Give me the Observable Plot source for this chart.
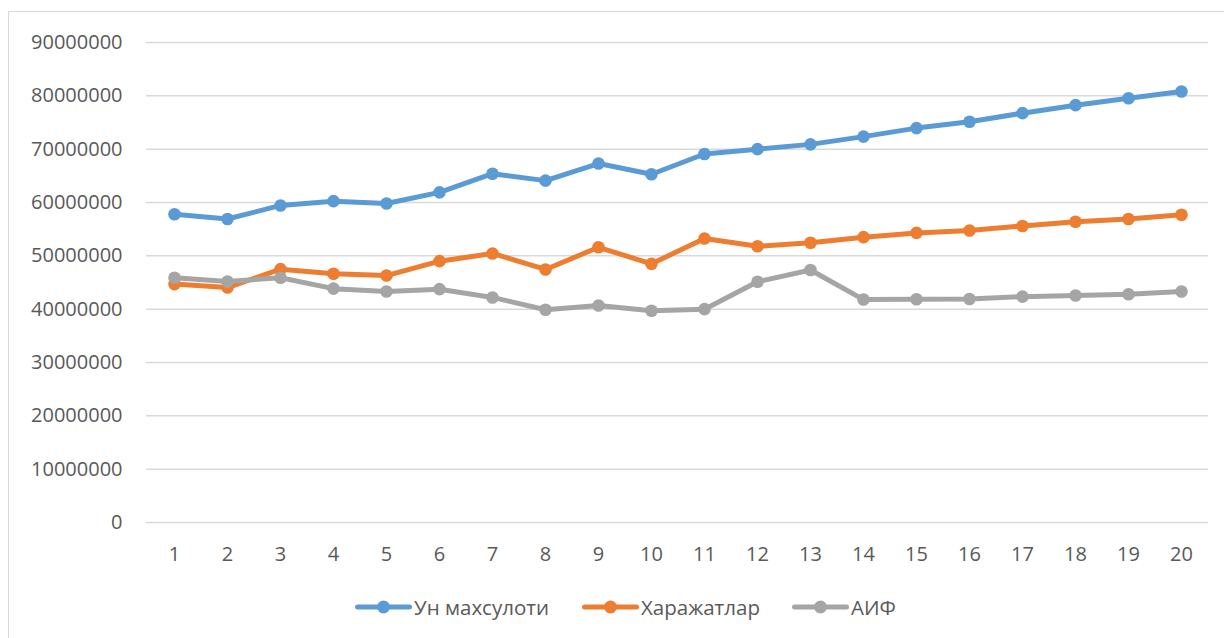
<!DOCTYPE html>
<html>
<head>
<meta charset="utf-8">
<script src="https://cdn.jsdelivr.net/npm/d3@7"></script>
<script src="https://cdn.jsdelivr.net/npm/@observablehq/plot@0.6"></script>
<style>
  html, body { margin: 0; padding: 0; background: #fff; overflow: hidden; }
  body { width: 1224px; height: 638px; position: relative; font-family: "Open Sans", "Noto Sans", sans-serif; }
  #frame { position: absolute; left: 8px; top: 11px; width: 1240px; height: 660px; border: 1px solid #d9d9d9; box-sizing: border-box; }
  #chart { position: absolute; left: 0; top: 0; }
  #legend { position: absolute; left: 0; top: 591px; width: 1224px; height: 32px; font-size: 20.5px; color: #595959; }
  #legend .item { position: absolute; top: 0; height: 32px; display: flex; align-items: center; white-space: nowrap; }
  #legend svg { margin-right: 2px; }
</style>
</head>
<body>
<div id="frame"></div>
<div id="chart"></div>
<div id="legend"></div>
<script>
const periods = [1,2,3,4,5,6,7,8,9,10,11,12,13,14,15,16,17,18,19,20];
const seriesNames = ["Ун махсулоти", "Харажатлар", "АИФ"];
const seriesColors = ["#5b9bd5", "#ed7d31", "#a5a5a5"];
const unValues = [57800000, 56900000, 59450000, 60250000, 59800000, 61900000, 65400000, 64100000, 67300000, 65300000,
                  69100000, 70000000, 70900000, 72350000, 73950000, 75150000, 76750000, 78250000, 79550000, 80800000];
const xarValues = [44700000, 44050000, 47500000, 46650000, 46300000, 49000000, 50450000, 47450000, 51600000, 48500000,
                   53250000, 51800000, 52450000, 53500000, 54300000, 54750000, 55600000, 56400000, 56900000, 57700000];
const aifValues = [45900000, 45200000, 45900000, 43850000, 43300000, 43750000, 42200000, 39900000, 40700000, 39700000,
                   40000000, 45150000, 47350000, 41800000, 41850000, 41900000, 42350000, 42550000, 42800000, 43300000];
const yTicks = [0, 10000000, 20000000, 30000000, 40000000, 50000000, 60000000, 70000000, 80000000, 90000000];

const seriesValues = [unValues, xarValues, aifValues];
const rows = [];
seriesNames.forEach((name, i) => {
  periods.forEach((p, j) => rows.push({period: p, value: seriesValues[i][j], series: name}));
});

const marks = [
  Plot.gridY(yTicks, {stroke: "#d9d9d9", strokeOpacity: 1, strokeWidth: 1.5}),
  Plot.axisY(yTicks, {tickSize: 0, tickPadding: 24, tickFormat: d => String(d), fontSize: 20, fill: "#595959"}),
  Plot.axisX(periods, {tickSize: 0, tickPadding: 24, fontSize: 20, fill: "#595959"})
];
seriesNames.forEach((name, i) => {
  const d = rows.filter(r => r.series === name);
  marks.push(Plot.line(d, {x: "period", y: "value", stroke: seriesColors[i], strokeWidth: 5, strokeLinejoin: "round", strokeLinecap: "round"}));
  marks.push(Plot.dot(d, {x: "period", y: "value", r: 6.3, fill: seriesColors[i], stroke: "none"}));
});

const chart = Plot.plot({
  width: 1224,
  height: 560,
  marginLeft: 146,
  marginRight: 16,
  marginTop: 42,
  marginBottom: 38,
  style: {fontFamily: "Open Sans, Noto Sans, sans-serif", background: "transparent", overflow: "visible"},
  x: {type: "point", domain: periods, padding: 0.5, label: null},
  y: {domain: [0, 90000000], label: null},
  marks
});
document.getElementById("chart").appendChild(chart);

const legendLefts = [355, 582, 792];
const legend = document.getElementById("legend");
seriesNames.forEach((name, i) => {
  const item = document.createElement("div");
  item.className = "item";
  item.style.left = legendLefts[i] + "px";
  const ns = "http://www.w3.org/2000/svg";
  const s = document.createElementNS(ns, "svg");
  s.setAttribute("width", 57); s.setAttribute("height", 16);
  const ln = document.createElementNS(ns, "line");
  ln.setAttribute("x1", 2.5); ln.setAttribute("x2", 54.5); ln.setAttribute("y1", 8); ln.setAttribute("y2", 8);
  ln.setAttribute("stroke", seriesColors[i]); ln.setAttribute("stroke-width", 5); ln.setAttribute("stroke-linecap", "round");
  const c = document.createElementNS(ns, "circle");
  c.setAttribute("cx", 28.5); c.setAttribute("cy", 8); c.setAttribute("r", 6.5); c.setAttribute("fill", seriesColors[i]);
  s.appendChild(ln); s.appendChild(c);
  const t = document.createElement("span");
  t.textContent = name;
  item.appendChild(s); item.appendChild(t);
  legend.appendChild(item);
});
</script>
</body>
</html>
